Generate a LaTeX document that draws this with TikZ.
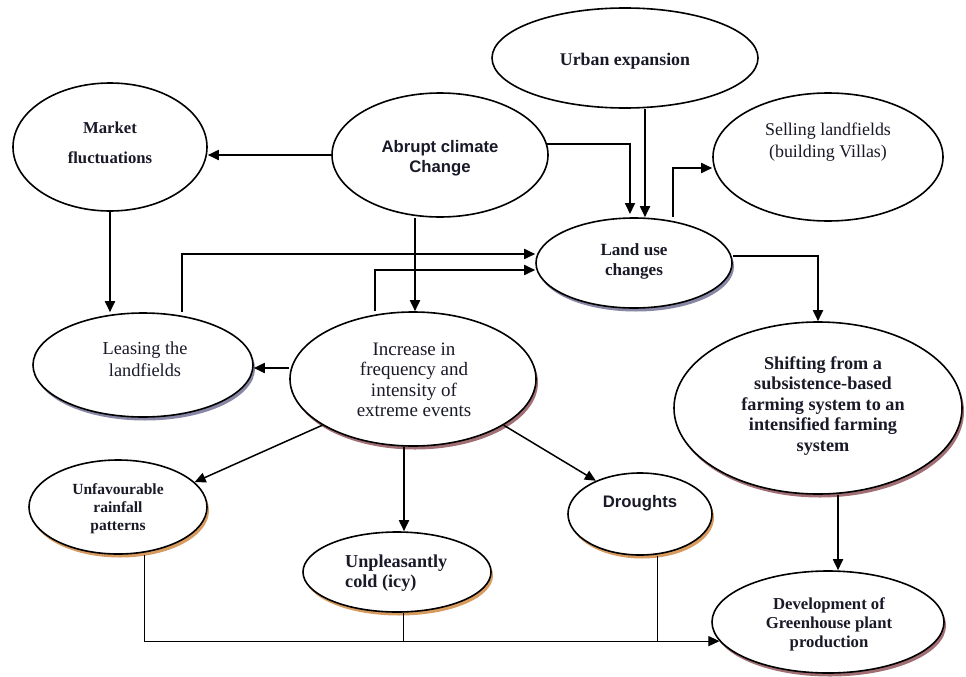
\documentclass[tikz,border=0pt]{standalone}
\usepackage{fontspec}
\setmainfont{Liberation Serif}
\newfontfamily\arialf{Liberation Sans}
\usetikzlibrary{shapes.geometric,arrows.meta,shadows}
\definecolor{shblue}{RGB}{135,135,165}
\definecolor{shmauve}{RGB}{160,110,115}
\definecolor{shorange}{RGB}{215,155,95}
\definecolor{ink}{RGB}{25,25,40}
\begin{document}
\begin{tikzpicture}[x=1pt,y=-1pt,
  ell/.style={ellipse,draw,line width=1.6pt,fill=white,inner sep=0pt},
  shb/.style={drop shadow={shadow xshift=2pt,shadow yshift=-3.5pt,fill=shblue,opacity=1}},
  shm/.style={drop shadow={shadow xshift=2pt,shadow yshift=-3.5pt,fill=shmauve,opacity=1}},
  sho/.style={drop shadow={shadow xshift=2pt,shadow yshift=-3.5pt,fill=shorange,opacity=1}},
  arr/.style={line width=1.8pt,-{Triangle[length=11pt,width=10pt]}},
  darr/.style={line width=1.5pt,-{Triangle[length=11pt,width=10pt]}},
  tarr/.style={line width=1pt,-{Triangle[length=11pt,width=10pt]}},
  tline/.style={line width=1pt},
  txt/.style={align=center,inner sep=0pt,text=ink}]
\useasboundingbox[fill=white] (0,0) rectangle (966,677);

% ellipses
\node[ell,minimum width=194pt,minimum height=128pt] (market) at (110,147) {};
\node[ell,minimum width=216pt,minimum height=124pt] (abrupt) at (440,155) {};
\node[ell,minimum width=266pt,minimum height=100pt] (urban) at (625,58) {};
\node[ell,minimum width=230pt,minimum height=128pt] (selling) at (828,157) {};
\node[ell,shb,minimum width=196pt,minimum height=90pt] (landuse) at (634,263) {};
\node[ell,shb,minimum width=220pt,minimum height=104pt] (leasing) at (143,365) {};
\node[ell,shm,minimum width=246pt,minimum height=134pt] (increase) at (413,379) {};
\node[ell,shm,minimum width=288pt,minimum height=172pt] (shifting) at (818,408) {};
\node[ell,sho,minimum width=178pt,minimum height=94pt] (unfav) at (118,507) {};
\node[ell,sho,minimum width=188pt,minimum height=80pt] (unpleas) at (397,572) {};
\node[ell,sho,minimum width=144pt,minimum height=82pt] (droughts) at (640,514) {};
\node[ell,shm,minimum width=232pt,minimum height=102pt] (devel) at (828,622) {};

% texts
\node[txt,font=\bfseries\fontsize{16.7}{30}\selectfont] (tmarket) at (110,143) {Market\\fluctuations};
\node[txt,font=\arialf\bfseries\fontsize{16.7}{20}\selectfont] (tabrupt) at (440,158) {Abrupt climate\\Change};
\node[txt,font=\bfseries\fontsize{17.8}{21}\selectfont] (turban) at (625,61) {Urban expansion};
\node[txt,font=\fontsize{17.9}{22}\selectfont] (tselling) at (828,142) {Selling landfields\\(building Villas)};
\node[txt,font=\bfseries\fontsize{17.1}{20}\selectfont] (tlanduse) at (634,261) {Land use\\changes};
\node[txt,font=\fontsize{18.3}{22}\selectfont] (tleasing) at (145,359) {Leasing the\\landfields};
\node[txt,font=\fontsize{19}{20.5}\selectfont] (tincrease) at (414,380) {Increase in\\frequency and\\intensity of\\extreme events};
\node[txt,font=\bfseries\fontsize{18.2}{20.5}\selectfont] (tshifting) at (823,406) {Shifting from a\\subsistence-based\\farming system to an\\intensified farming\\system};
\node[txt,font=\bfseries\fontsize{15.5}{18}\selectfont] (tunfav) at (118,509) {Unfavourable\\rainfall\\patterns};
\node[txt,align=left,anchor=west,font=\bfseries\fontsize{18.2}{20}\selectfont] (tunpleas) at (345,573) {Unpleasantly\\cold (icy)};
\node[txt,font=\arialf\bfseries\fontsize{16.7}{20}\selectfont] (tdroughts) at (640,503) {Droughts};
\node[txt,font=\bfseries\fontsize{16.7}{19}\selectfont] (tdevel) at (829,624) {Development of\\Greenhouse plant\\production};

% connectors
\draw[arr] (abrupt.west) -- (abrupt.west -| market.east);
\coordinate (luin) at (630,214);
\draw[arr] (abrupt.6) -| (luin);
\draw[arr] ([xshift=20pt]urban.south) -- ([xshift=20pt]urban.south |- landuse.north);
\draw[arr] ([xshift=39pt]landuse.north) |- ([yshift=-11pt]selling.west);
\draw[arr] ([yshift=7pt]landuse.east) -| (shifting.north);
\draw[arr] (market.south) -- (market.south |- leasing.north);
\draw[arr] ([xshift=39pt]leasing.north) |- ([yshift=9pt]landuse.west);
\draw[arr] ([xshift=-38pt]increase.north) |- ([yshift=-7pt]landuse.west);
\draw[arr] ([xshift=-25pt]abrupt.south) -- ([xshift=-25pt]abrupt.south |- increase.north);
\draw[arr] ([yshift=11pt]increase.west) -- ([yshift=11pt]increase.west -| leasing.east);
\draw[darr] (increase.207) -- (unfav.18);
\draw[arr] ([xshift=-9pt]increase.south) -- ([xshift=-9pt]increase.south |- unpleas.north);
\draw[darr] (increase.-27) -- (droughts.143);
\draw[arr] ([xshift=20pt]shifting.south) -- ([xshift=20pt]shifting.south |- devel.north);
\draw[tarr] ([xshift=26pt]unfav.south) |- (devel.190);
\draw[tline] ([xshift=6pt]unpleas.south) -- ([xshift=6pt]unpleas.south |- devel.190);
\draw[tline] ([xshift=17pt]droughts.south) -- ([xshift=17pt]droughts.south |- devel.190);
\end{tikzpicture}
\end{document}
